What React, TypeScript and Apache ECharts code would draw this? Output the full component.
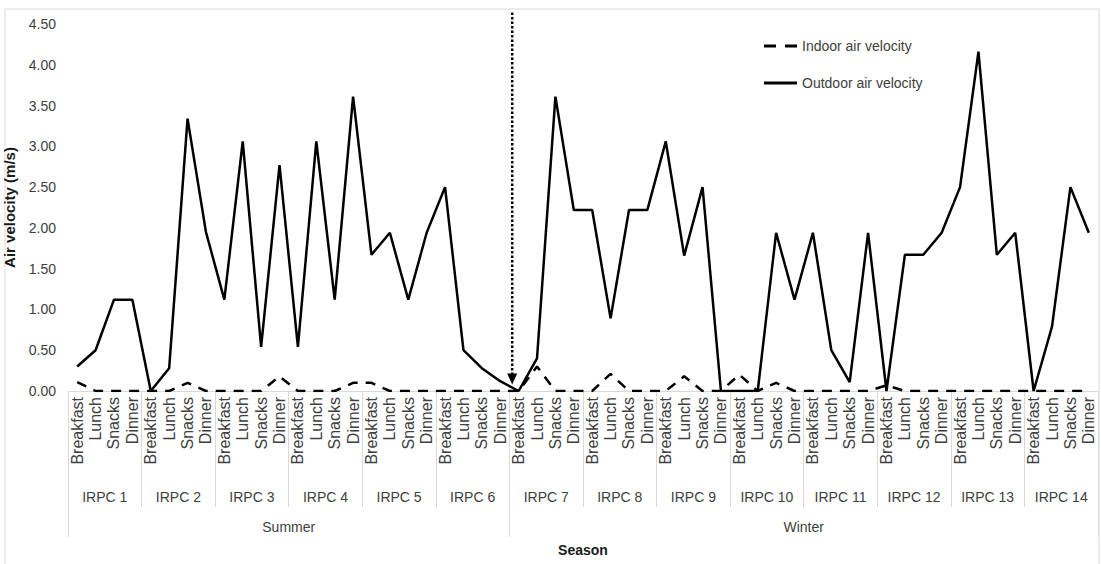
import React, { useEffect, useRef } from "react";
import * as echarts from "echarts";

const meals = ["Breakfast", "Lunch", "Snacks", "Dinner"];
const groups = [
  "IRPC 1", "IRPC 2", "IRPC 3", "IRPC 4", "IRPC 5", "IRPC 6", "IRPC 7",
  "IRPC 8", "IRPC 9", "IRPC 10", "IRPC 11", "IRPC 12", "IRPC 13", "IRPC 14",
];
const seasons = ["Summer", "Winter"];
const seasonGroupCounts = [6, 8];

const indoor = [
  0.11, 0.0, 0.0, 0.0,
  0.0, 0.0, 0.1, 0.0,
  0.0, 0.0, 0.0, 0.18,
  0.0, 0.0, 0.0, 0.1,
  0.1, 0.0, 0.0, 0.0,
  0.0, 0.0, 0.0, 0.0,
  0.0, 0.3, 0.0, 0.0,
  0.0, 0.21, 0.0, 0.0,
  0.0, 0.18, 0.0, 0.0,
  0.2, 0.0, 0.1, 0.0,
  0.0, 0.0, 0.0, 0.0,
  0.07, 0.0, 0.0, 0.0,
  0.0, 0.0, 0.0, 0.0,
  0.0, 0.0, 0.0, 0.0,
];

const outdoor = [
  0.3, 0.5, 1.12, 1.12,
  0.0, 0.28, 3.34, 1.95,
  1.12, 3.06, 0.54, 2.77,
  0.54, 3.06, 1.12, 3.61,
  1.67, 1.94, 1.12, 1.94,
  2.5, 0.5, 0.28, 0.12,
  0.0, 0.4, 3.61, 2.22,
  2.22, 0.89, 2.22, 2.22,
  3.06, 1.66, 2.5, 0.0,
  0.0, 0.0, 1.94, 1.12,
  1.94, 0.5, 0.11, 1.94,
  0.0, 1.67, 1.67, 1.94,
  2.5, 4.16, 1.67, 1.94,
  0.0, 0.79, 2.5, 1.94,
];

const FONT = "'Liberation Sans', Arial, sans-serif";
const GRAY = "#d9d9d9";
const TXT = "#404040";
const DASH_ICON = "path://M0,0h12v3h-12z M21,0h12v3h-12z";
const SOLID_ICON = "path://M0,0h33v3h-33z";

export default function App() {
  const ref = useRef<HTMLDivElement>(null);

  useEffect(() => {
    document.body.style.margin = "0";
    if (!ref.current) return;
    const chart = echarts.init(ref.current, null, { renderer: "svg" });

    const categories: string[] = [];
    groups.forEach(() => meals.forEach((m) => categories.push(m)));
    const n = categories.length;
    const per = meals.length;

    const groupTicks: number[] = [];
    for (let i = 0; i <= groups.length; i++) groupTicks.push(i * per);
    const groupLabelPos: number[] = groups.map((_, i) => i * per + per / 2);

    const seasonTicks: number[] = [0];
    const seasonLabelPos: number[] = [];
    let acc = 0;
    seasonGroupCounts.forEach((c) => {
      seasonLabelPos.push((acc + c / 2) * per);
      acc += c;
      seasonTicks.push(acc * per);
    });

    chart.setOption({
      animation: false,
      textStyle: { fontFamily: FONT },
      grid: { left: 68, right: 3, top: 24, bottom: 173, containLabel: false, outerBoundsMode: "none" },
      legend: {
        orient: "vertical",
        left: 759,
        top: 34,
        itemWidth: 33,
        itemHeight: 3,
        itemGap: 23,
        textStyle: { fontSize: 14, color: TXT, fontFamily: FONT },
        data: [
          { name: "Indoor air velocity", icon: DASH_ICON, itemStyle: { color: "#000" } },
          { name: "Outdoor air velocity", icon: SOLID_ICON, itemStyle: { color: "#000" } },
        ],
      },
      xAxis: [
        {
          type: "category",
          data: categories,
          boundaryGap: true,
          position: "bottom",
          axisLine: { show: true, lineStyle: { color: GRAY, width: 1 } },
          axisTick: { show: false },
          axisLabel: { interval: 0, rotate: 90, fontSize: 16, color: TXT, margin: 6, fontFamily: FONT },
          splitLine: { show: false },
        },
        {
          type: "value",
          min: 0,
          max: n,
          position: "bottom",
          axisLine: { show: false },
          axisTick: { show: true, customValues: groupTicks, length: 116, lineStyle: { color: GRAY, width: 1 } },
          axisLabel: {
            show: true,
            customValues: groupLabelPos,
            formatter: (v: number) => groups[Math.round((v - per / 2) / per)] ?? "",
            fontSize: 14,
            color: TXT,
            margin: 99,
            fontFamily: FONT,
          },
          splitLine: { show: false },
        },
        {
          type: "value",
          min: 0,
          max: n,
          position: "bottom",
          axisLine: { show: false },
          axisTick: { show: true, customValues: seasonTicks, length: 146, lineStyle: { color: GRAY, width: 1 } },
          axisLabel: {
            show: true,
            customValues: seasonLabelPos,
            formatter: (v: number) => {
              const idx = seasonLabelPos.findIndex((p) => Math.abs(p - v) < 0.01);
              return idx >= 0 ? seasons[idx] : "";
            },
            fontSize: 14,
            color: TXT,
            margin: 129,
            fontFamily: FONT,
          },
          splitLine: { show: false },
          name: "Season",
          nameLocation: "middle",
          nameGap: 152,
          nameTextStyle: { fontSize: 14, fontWeight: "bold", color: "#1a1a1a", fontFamily: FONT },
        },
      ],
      yAxis: {
        type: "value",
        min: 0,
        max: 4.5,
        interval: 0.5,
        axisLine: { show: false },
        axisTick: { show: false },
        splitLine: { show: false },
        axisLabel: { formatter: (v: number) => v.toFixed(2), fontSize: 14, color: TXT, margin: 12, fontFamily: FONT },
        name: "Air velocity (m/s)",
        nameLocation: "middle",
        nameGap: 51,
        nameTextStyle: { fontSize: 15, fontWeight: "bold", color: "#1a1a1a", fontFamily: FONT },
      },
      series: [
        {
          name: "Indoor air velocity",
          type: "line",
          xAxisIndex: 0,
          data: indoor,
          symbol: "none",
          lineStyle: { color: "#000", width: 2.5, type: [10, 8] },
          itemStyle: { color: "#000" },
          z: 2,
        },
        {
          name: "Outdoor air velocity",
          type: "line",
          xAxisIndex: 0,
          data: outdoor,
          symbol: "none",
          lineStyle: { color: "#000", width: 2.5, type: "solid" },
          itemStyle: { color: "#000" },
          z: 3,
        },
      ],
    });

    const boundary = seasonGroupCounts[0] * per + 0.15;
    const ax = chart.convertToPixel({ xAxisIndex: 1 }, boundary) as number;
    const yTop = chart.convertToPixel({ yAxisIndex: 0 }, 4.64) as number;
    const yTip = chart.convertToPixel({ yAxisIndex: 0 }, 0.08) as number;

    chart.setOption({
      graphic: [
        {
          type: "rect",
          shape: { x: 5, y: 9, width: 1094, height: 570 },
          style: { fill: "none", stroke: GRAY, lineWidth: 1 },
          silent: true,
        },
        {
          type: "line",
          shape: { x1: ax, y1: yTop, x2: ax, y2: yTip - 9 },
          style: { stroke: "#000", lineWidth: 2.5, lineDash: [2.5, 2] },
          silent: true,
          z: 10,
        },
        {
          type: "polygon",
          shape: { points: [[ax - 5, yTip - 11], [ax + 5, yTip - 11], [ax, yTip]] },
          style: { fill: "#000" },
          silent: true,
          z: 10,
        },
      ],
    });

    return () => chart.dispose();
  }, []);

  return <div ref={ref} style={{ width: 1101, height: 564 }} />;
}
